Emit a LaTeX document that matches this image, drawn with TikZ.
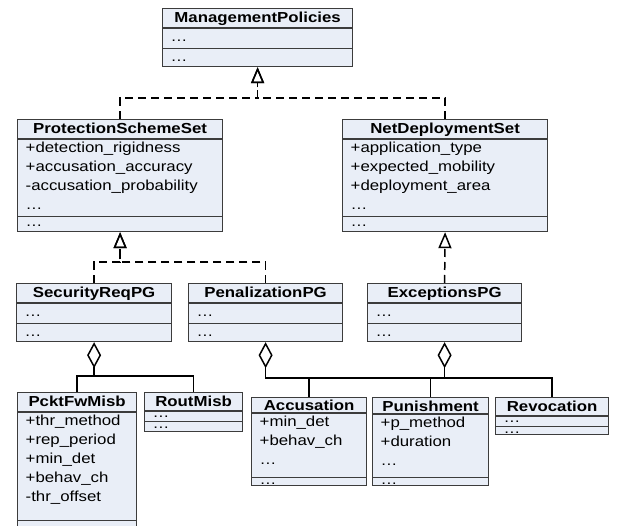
\documentclass[tikz,border=0pt]{standalone}
\usepackage{fontspec}
\setmainfont{Liberation Sans}[FakeStretch=1.16]
\usetikzlibrary{arrows.meta}

\definecolor{boxfill}{RGB}{233,238,247}
\definecolor{boxline}{RGB}{60,60,60}

\tikzset{
  classbox/.style={draw=boxline, fill=boxfill, line width=1.2pt, anchor=north west, inner sep=0pt},
  classline/.style={draw=boxline, line width=1.2pt},
  classtitle/.style={anchor=base, inner sep=0pt, font=\fontsize{14.5}{19}\selectfont\bfseries},
  classtext/.style={anchor=base west, inner sep=0pt},
  conn/.style={line width=1.5pt},
  realize/.style={conn, dash pattern=on 8pt off 5pt, -{Triangle[open, length=16pt, width=13pt]}},
  aggregate/.style={conn, {Diamond[open, length=26pt, width=14pt]}-}
}

% #1 name, #2 position, #3 width, #4-#6 compartment heights, #7 title, #8 attributes, #9 operations
\newcommand{\umlclass}[9]{%
  \node[classbox, minimum width=#3pt, minimum height={(#4+#5+#6)*1pt}] (#1) at #2 {};
  \draw[classline] ([yshift=-#4pt]#1.north west) -- ([yshift=-#4pt]#1.north east);
  \draw[classline] ([yshift=#6pt]#1.south west) -- ([yshift=#6pt]#1.south east);
  \pgfmathsetmacro\titlebase{min(14.5,#4-2)}
  \node[classtitle] (#1-title) at ([yshift=-\titlebase pt]#1.north) {#7};
  \pgfmathsetmacro\attrbase{#4+min(13.5,#5-2.5)}
  \foreach \attr [count=\i from 0] in {#8}
    \node[classtext] (#1-a\i) at ([xshift=8.5pt, yshift={-(\attrbase+19*\i)*1pt}]#1.north west) {\attr};
  \pgfmathsetmacro\opsbase{min(5.5,#6-7.5)}
  \node[classtext] (#1-ops) at ([xshift=8.5pt, yshift=\opsbase pt]#1.south west) {#9};
}

\begin{document}
\begin{tikzpicture}[x=1pt, y=-1pt, font=\fontsize{14.5}{19}\selectfont]
  \path[fill=white, use as bounding box] (0,0) rectangle (619,526);

  % classes
  \umlclass{mp}{(162,8)}{190}{20}{19}{19}{ManagementPolicies}{\dots}{\dots}
  \umlclass{pss}{(17,119)}{205}{20}{76}{16}{ProtectionSchemeSet}
    {+detection\_rigidness, +accusation\_accuracy, -accusation\_probability, \dots}{\dots}
  \umlclass{nds}{(342,119)}{205}{20}{76}{16}{NetDeploymentSet}
    {+application\_type, +expected\_mobility, +deployment\_area, \dots}{\dots}
  \umlclass{sr}{(16,283)}{155}{20}{19}{19}{SecurityReqPG}{\dots}{\dots}
  \umlclass{pen}{(188,283)}{154}{20}{19}{19}{PenalizationPG}{\dots}{\dots}
  \umlclass{ex}{(367,283)}{154}{20}{19}{19}{ExceptionsPG}{\dots}{\dots}
  \umlclass{pck}{(17,392)}{119}{20}{107}{30}{PcktFwMisb}
    {+thr\_method, +rep\_period, +min\_det, +behav\_ch, -thr\_offset}{}
  \umlclass{rout}{(144,392)}{98}{19}{9}{11}{RoutMisb}{\dots}{\dots}
  \umlclass{acc}{(251,397)}{115}{16}{63}{9}{Accusation}{+min\_det, +behav\_ch, \dots}{\dots}
  \umlclass{pun}{(372,397)}{116}{17}{62}{9}{Punishment}{+p\_method, +duration, \dots}{\dots}
  \umlclass{rev}{(495,397)}{113}{19}{9}{9}{Revocation}{\dots}{\dots}

  % realization
  \draw[realize] (pss.north) |- ([yshift=-31pt]mp.south) -- (mp.south);
  \draw[realize] (nds.north) |- ([yshift=-31pt]mp.south) -- (mp.south);
  \draw[realize] (sr.north) |- ([yshift=-30pt]pss.south) -- (pss.south);
  \draw[realize] (pen.north) |- ([yshift=-30pt]pss.south) -- (pss.south);
  \draw[realize] (ex.north) -- (nds.south);

  % aggregation
  \draw[aggregate] (sr.south) -- ([yshift=-34pt]sr.south) -| (pck.north);
  \draw[conn] ([yshift=-34pt]sr.south) -| (rout.north);
  \draw[aggregate] (pen.south) -- ([yshift=-36pt]pen.south) -| (acc.north);
  \draw[conn] ([yshift=-36pt]pen.south) -| (pun.north);
  \draw[conn] ([yshift=-36pt]pen.south) -| (rev.north);
  \draw[aggregate] (ex.south) -- ([yshift=-36pt]ex.south);
\end{tikzpicture}
\end{document}
